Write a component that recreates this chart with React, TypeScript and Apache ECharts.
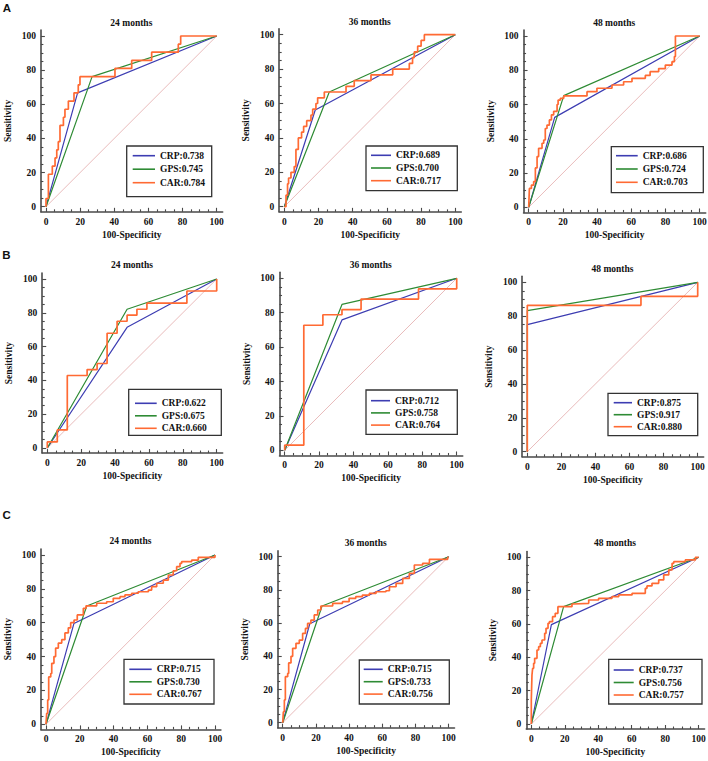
import React, { useEffect, useRef } from "react";
import * as echarts from "echarts";

// ---------- text / ticks ----------
const tickValues = [0, 20, 40, 60, 80, 100];
const minorTickValues = [5, 10, 15, 25, 30, 35, 45, 50, 55, 65, 70, 75, 85, 90, 95];
const panelTitles = ["24 months", "36 months", "48 months", "24 months", "36 months", "48 months", "24 months", "36 months", "48 months"];
const groupLetters = ["A", "B", "C"];
const markerNames = ["CRP", "GPS", "CAR"];
const aucValues = [
  [0.738, 0.745, 0.784], [0.689, 0.700, 0.717], [0.686, 0.724, 0.703],
  [0.622, 0.675, 0.660], [0.712, 0.758, 0.764], [0.875, 0.917, 0.880],
  [0.715, 0.730, 0.767], [0.715, 0.733, 0.756], [0.737, 0.756, 0.757],
];
const diagonal = [[0, 0], [100, 100]];

// ---------- ROC curves: [100-Specificity, Sensitivity] ----------
// A
const crpA24 = [[0, 0], [18.5, 66.7], [100, 100]];
const gpsA24 = [[0, 0], [27, 76.2], [100, 100]];
const carA24 = [[0, 0], [0, 4.8], [1.4, 19], [3.7, 23.8], [5.3, 28.6], [6.3, 33.3], [7.2, 38.1], [8.2, 47.6], [10.2, 52.4], [11.1, 57.1], [13.1, 61.9], [16.4, 66.7], [18.9, 71.4], [19.9, 76.2], [40.4, 81], [50.2, 85.7], [61.9, 90.5], [77.5, 95.2], [78.9, 100], [100, 100]];
const crpA36 = [[0, 0], [18.1, 56.2], [100, 100]];
const gpsA36 = [[0, 0], [26.3, 66.7], [100, 100]];
const carA36 = [[0, 0], [1, 6.7], [1.9, 13.3], [2.5, 16.7], [3.9, 20], [5.8, 23.3], [6.8, 33.3], [8.2, 40], [10.1, 43.3], [11.3, 46.7], [13.1, 50], [15.6, 53.3], [16.6, 56.7], [18.5, 60], [19.5, 63.3], [23.4, 66.7], [36.1, 70], [40.9, 73.3], [50.7, 76.7], [63.4, 80], [73.1, 83.3], [75, 86.7], [76, 90], [78, 93.3], [80, 96.7], [81.9, 100], [100, 100]];
const crpA48 = [[0, 0], [15.2, 52.5], [100, 100]];
const gpsA48 = [[0, 0], [20.5, 65.2], [100, 100]];
const carA48 = [[0, 0], [0.4, 11], [1.6, 13], [2.9, 15], [3.9, 23], [4.9, 29.6], [5.8, 34.4], [7.8, 37.4], [8.8, 39.3], [9.7, 46], [10.7, 48], [12.1, 51], [13.3, 54], [14.6, 56], [16.6, 60], [17.2, 62.6], [18.5, 63.6], [20.5, 65], [34.1, 67.5], [39.9, 69.5], [48.7, 71.4], [55.5, 73.3], [60.4, 75.3], [68.2, 77], [71, 79.2], [76, 81], [79.9, 83], [83.8, 85], [85.2, 88], [85.8, 100], [100, 100]];
// B
const crpB24 = [[0, 0], [47.1, 71.4], [100, 100]];
const gpsB24 = [[0, 0], [47.1, 82.1], [100, 100]];
const carB24 = [[0, 0], [0, 3.6], [5.9, 10.7], [11.8, 42.9], [23.5, 46.4], [29.4, 50], [35.3, 67.9], [41.2, 75], [47.1, 78.6], [52.9, 82.1], [58.8, 85.7], [82.4, 92.9], [100, 100]];
const crpB36 = [[0, 0], [33.3, 75.8], [100, 100]];
const gpsB36 = [[0, 0], [33.3, 84.8], [100, 100]];
const carB36 = [[0, 0], [0, 3], [11.1, 72.7], [22.2, 78.8], [33.3, 81.8], [44.4, 87.9], [77.8, 93.9], [100, 100]];
const crpB48 = [[0, 0], [0, 75], [100, 100]];
const gpsB48 = [[0, 0], [0, 83.3], [100, 100]];
const carB48 = [[0, 0], [0, 86.4], [66.7, 91.7], [100, 100]];
// C
const crpC24 = [[0, 0], [16.5, 59.5], [100, 100]];
const gpsC24 = [[0, 0], [24.1, 69.9], [100, 100]];
const carC24 = [[0, 0], [0.4, 6.5], [1, 14.4], [1.6, 28], [2.8, 30], [3.4, 36], [4.7, 40], [5.7, 45], [7.3, 48], [9.3, 50], [11.2, 54], [13.2, 57], [14.6, 60], [16.6, 61.6], [18.5, 64.6], [22.1, 68.5], [23.7, 70], [30, 71.5], [35.9, 72.4], [39.8, 74.4], [43.8, 75.4], [46.7, 76.4], [50.7, 77.4], [54.6, 78.3], [60.6, 79.3], [62.5, 81.3], [65.5, 83.3], [69.4, 85.2], [72.4, 88.2], [75.3, 90.7], [77.3, 93.1], [79.3, 95.1], [80.3, 96.1], [86.2, 97], [90.1, 98.6], [100, 100]];
const crpC36 = [[0, 0], [16.3, 59.6], [100, 100]];
const gpsC36 = [[0, 0], [23.7, 70.3], [100, 100]];
const carC36 = [[0, 0], [0.4, 6.6], [1, 13.7], [1.6, 27.7], [3, 29.7], [3.6, 36], [5, 40], [6, 44.8], [8, 47.8], [10, 49.8], [12, 53.8], [13.7, 56.8], [15, 59.8], [17, 61.8], [19, 64.9], [21.1, 67.9], [23, 70.3], [30.1, 71.9], [36, 72.9], [40, 74.9], [44, 75.9], [48, 76.9], [52.2, 77.9], [56.2, 78.9], [62.2, 79.5], [64.3, 81.9], [68.3, 83.9], [72.3, 86.9], [76.3, 90], [79.3, 95], [84.3, 96], [88.4, 98.4], [99.4, 99.6], [100, 100]];
const crpC48 = [[0, 0], [12, 59.6], [100, 100]];
const gpsC48 = [[0, 0], [19.3, 70.4], [100, 100]];
const carC48 = [[0, 0], [0, 14.4], [0.4, 29.4], [0.8, 33.4], [1.4, 36.4], [2, 39.4], [3.4, 44.4], [4.4, 46.4], [5.4, 48.4], [6.4, 50.4], [8, 54.4], [8.8, 57.4], [10, 60.4], [10.8, 61.4], [12.7, 64.4], [14.3, 66.4], [15.9, 70.4], [24.3, 72], [25.3, 72.4], [34.3, 74.4], [40.2, 75.4], [48.2, 76.4], [52.2, 77.4], [60.2, 78.4], [68.1, 81.4], [69.1, 82.8], [72.1, 84.4], [76.1, 86.4], [79.1, 89.4], [82.1, 92.4], [84.1, 96.4], [85.1, 97.4], [92, 98.4], [98, 100], [100, 100]];

const panelCurves = [
  [crpA24, gpsA24, carA24], [crpA36, gpsA36, carA36], [crpA48, gpsA48, carA48],
  [crpB24, gpsB24, carB24], [crpB36, gpsB36, carB36], [crpB48, gpsB48, carB48],
  [crpC24, gpsC24, carC24], [crpC36, gpsC36, carC36], [crpC48, gpsC48, carC48],
];

// ---------- layout (pixels) ----------
const layout = [
  { x0: 46, x100: 216.7, y0: 206.7, y100: 36, titleY: 23, box: [126.7, 146, 211.7, 196.7], lineX: 132.7, lineLen: 22.3, row0: 155.7, rowStep: 13.5 },
  { x0: 284.3, x100: 455.3, y0: 206.7, y100: 34.7, titleY: 21.7, box: [366, 146, 457.3, 190.7], lineX: 371, lineLen: 20, row0: 155.3, rowStep: 12.7 },
  { x0: 528.7, x100: 699.7, y0: 207.3, y100: 36, titleY: 23, box: [611.3, 146.7, 703.3, 192.7], lineX: 616, lineLen: 21.7, row0: 155.7, rowStep: 13.3 },
  { x0: 47.3, x100: 216.7, y0: 448, y100: 279, titleY: 265, box: [128.7, 389.3, 221.3, 435.3], lineX: 135, lineLen: 21.7, row0: 403.3, rowStep: 12.5 },
  { x0: 284.7, x100: 456.7, y0: 450.3, y100: 278.3, titleY: 265, box: [366, 390, 457.3, 434.3], lineX: 371, lineLen: 19, row0: 400.7, rowStep: 12.2 },
  { x0: 527.3, x100: 697.7, y0: 451.7, y100: 282.3, titleY: 269, box: [608, 393.3, 697.7, 435.7], lineX: 613.7, lineLen: 18.3, row0: 402.7, rowStep: 12 },
  { x0: 46, x100: 215, y0: 724.3, y100: 555, titleY: 540.7, box: [124, 659.3, 214, 704], lineX: 129.3, lineLen: 22.4, row0: 669.3, rowStep: 12.5 },
  { x0: 282.7, x100: 448.7, y0: 722.7, y100: 556.7, titleY: 542.7, box: [359.3, 660, 449.3, 704], lineX: 363.7, lineLen: 19, row0: 669.3, rowStep: 12.4 },
  { x0: 531.3, x100: 698.7, y0: 724, y100: 557.3, titleY: 542.7, box: [608.7, 659.3, 702, 704], lineX: 613.7, lineLen: 20, row0: 670, rowStep: 12.5 },
];
const letterPos = [[7, 8], [6.5, 255], [6.7, 515]];

const FONT = '"Liberation Serif", "Times New Roman", serif';
const AXIS_MIN = -3;
const AXIS_MAX = 103.5;
const colors = ["#3d3db2", "#2e8b34", "#ff6a33"];
const widths = [1.2, 1.2, 1.7];
const LEGEND_FONT = 9.5;
const LEGEND_ROW_H = 10;

function buildOption() {
  const grid: any[] = [];
  const xAxis: any[] = [];
  const yAxis: any[] = [];
  const series: any[] = [];
  const legend: any[] = [];
  const elements: any[] = [];
  const labelStyle = { fontFamily: FONT, fontWeight: "bold", fontSize: 9.5, color: "#111" };
  const axisLineStyle = { color: "#4a4a4a", width: 1.6 };
  const tickLine = { color: "#4a4a4a", width: 1.1 };

  layout.forEach((p, i) => {
    const sx = (p.x100 - p.x0) / 100;
    const sy = (p.y0 - p.y100) / 100;
    grid.push({
      left: p.x0 + AXIS_MIN * sx,
      top: p.y100 - (AXIS_MAX - 100) * sy,
      width: (AXIS_MAX - AXIS_MIN) * sx,
      height: (AXIS_MAX - AXIS_MIN) * sy,
      containLabel: false,
      outerBoundsMode: "none",
    });
    xAxis.push({
      gridIndex: i, type: "value", min: AXIS_MIN, max: AXIS_MAX, position: "bottom",
      axisLine: { show: true, onZero: false, lineStyle: axisLineStyle },
      axisTick: { show: true, inside: true, length: 4, customValues: tickValues, lineStyle: tickLine },
      axisLabel: { show: true, customValues: tickValues, margin: 5, ...labelStyle },
      splitLine: { show: false },
      name: "100-Specificity", nameLocation: "middle", nameGap: 18, nameMoveOverlap: false,
      nameTextStyle: { ...labelStyle },
    });
    xAxis.push({
      gridIndex: i, type: "value", min: AXIS_MIN, max: AXIS_MAX, position: "bottom",
      axisLine: { show: false, onZero: false },
      axisTick: { show: true, inside: true, length: 2.5, customValues: minorTickValues, lineStyle: tickLine },
      axisLabel: { show: false, customValues: minorTickValues },
      splitLine: { show: false },
    });
    yAxis.push({
      gridIndex: i, type: "value", min: AXIS_MIN, max: AXIS_MAX, position: "left",
      axisLine: { show: true, onZero: false, lineStyle: axisLineStyle },
      axisTick: { show: true, inside: true, length: 4, customValues: tickValues, lineStyle: tickLine },
      axisLabel: { show: true, customValues: tickValues, margin: 5, ...labelStyle },
      splitLine: { show: false },
      name: "Sensitivity", nameLocation: "middle", nameGap: 28, nameRotate: 90, nameMoveOverlap: false,
      nameTextStyle: { ...labelStyle },
    });
    yAxis.push({
      gridIndex: i, type: "value", min: AXIS_MIN, max: AXIS_MAX, position: "left",
      axisLine: { show: false, onZero: false },
      axisTick: { show: true, inside: true, length: 2.5, customValues: minorTickValues, lineStyle: tickLine },
      axisLabel: { show: false, customValues: minorTickValues },
      splitLine: { show: false },
    });

    const xi = 2 * i;
    series.push({
      type: "line", xAxisIndex: xi, yAxisIndex: xi, data: diagonal, symbol: "none", silent: true,
      lineStyle: { color: "#e3a9a9", width: 0.8 }, z: 1,
    });
    const names: string[] = [];
    panelCurves[i].forEach((d, k) => {
      const name = `${markerNames[k]}:${aucValues[i][k].toFixed(3)}`;
      names.push(name);
      series.push({
        type: "line", name, xAxisIndex: xi, yAxisIndex: xi, data: d, symbol: "none",
        showSymbol: false, step: k === 2 ? "end" : false,
        lineStyle: { color: colors[k], width: widths[k] }, itemStyle: { color: colors[k] },
        z: 2 + k,
      });
    });

    legend.push({
      data: names.map((n) => ({ name: n, icon: "rect" })),
      orient: "vertical", left: p.lineX, top: p.row0 - LEGEND_ROW_H / 2,
      itemWidth: p.lineLen, itemHeight: 1.6, itemGap: p.rowStep - LEGEND_ROW_H, padding: 0,
      selectedMode: false, textStyle: { ...labelStyle, fontSize: LEGEND_FONT },
    });

    const [bx1, by1, bx2, by2] = p.box;
    elements.push({
      type: "rect", shape: { x: bx1, y: by1, width: bx2 - bx1, height: by2 - by1 },
      style: { fill: "none", stroke: "#333", lineWidth: 1.3 }, silent: true,
    });
    elements.push({
      type: "text", x: (p.x0 + p.x100) / 2, y: p.titleY,
      style: {
        text: panelTitles[i], fontFamily: FONT, fontWeight: "bold", fontSize: 9.5, fill: "#111",
        align: "center", verticalAlign: "middle", textAlign: "center", textVerticalAlign: "middle",
      },
    });
  });

  groupLetters.forEach((letter, g) => {
    elements.push({
      type: "text", x: letterPos[g][0], y: letterPos[g][1],
      style: {
        text: letter, fontFamily: '"Liberation Sans", Arial, sans-serif', fontWeight: "bold", fontSize: 11.5, fill: "#111",
        align: "center", verticalAlign: "middle", textAlign: "center", textVerticalAlign: "middle",
      },
    });
  });

  return {
    animation: false,
    backgroundColor: "#ffffff",
    grid, xAxis, yAxis, series, legend,
    graphic: { elements },
  };
}

export default function App() {
  const ref = useRef<HTMLDivElement>(null);
  useEffect(() => {
    if (!ref.current) return;
    const chart = echarts.init(ref.current, undefined, { renderer: "svg" });
    chart.setOption(buildOption() as any);
    return () => chart.dispose();
  }, []);
  return (
    <div
      ref={ref}
      style={{ position: "absolute", left: 0, top: 0, width: 708, height: 761, background: "#fff" }}
    />
  );
}
